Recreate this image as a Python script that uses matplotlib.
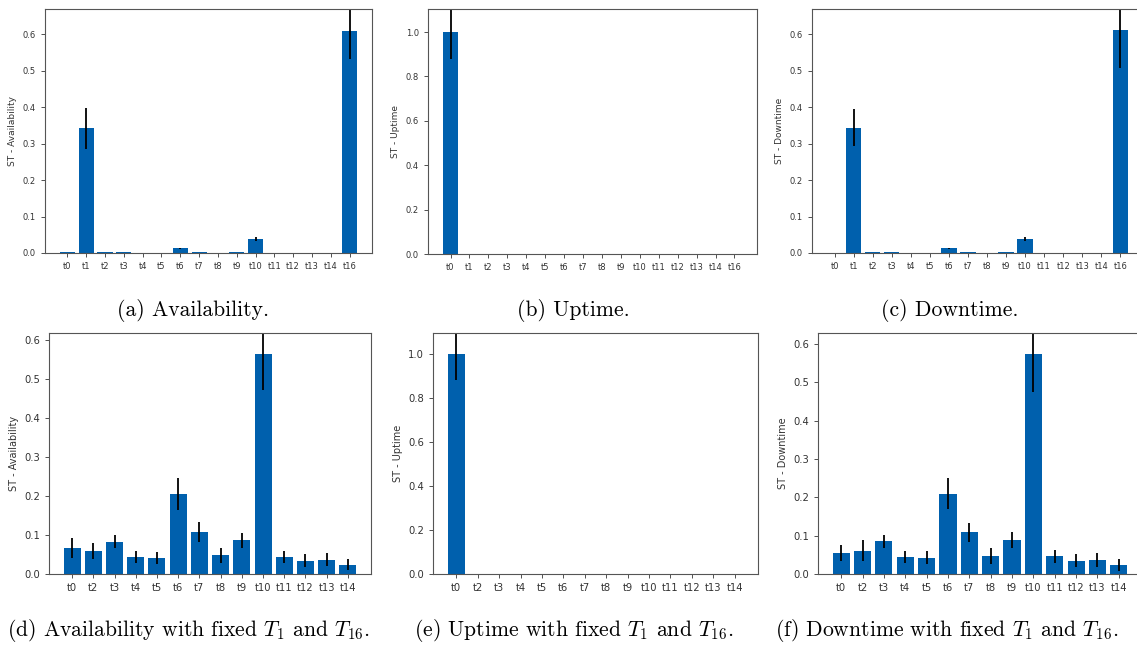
import numpy as np
import matplotlib.pyplot as plt

plt.rcParams['mathtext.fontset'] = 'cm'

# top row: all 16 inputs
labels_full = ['t0', 't1', 't2', 't3', 't4', 't5', 't6', 't7', 't8', 't9',
               't10', 't11', 't12', 't13', 't14', 't16']
avail_full = [0.002, 0.342, 0.002, 0.003, 0.0, 0.0, 0.013, 0.003, 0.0, 0.003,
              0.038, 0.0, 0.0, 0.0, 0.0, 0.609]
avail_full_err = [0.0, 0.057, 0.0, 0.0, 0.0, 0.0, 0.002, 0.0, 0.0, 0.0,
                  0.006, 0.0, 0.0, 0.0, 0.0, 0.076]
up_full = [1.0] + [0.0] * 15
up_full_err = [0.12] + [0.0] * 15
down_full = [0.0, 0.344, 0.002, 0.003, 0.0, 0.0, 0.013, 0.003, 0.0, 0.003,
             0.038, 0.0, 0.0, 0.0, 0.0, 0.612]
down_full_err = [0.0, 0.051, 0.0, 0.0, 0.0, 0.0, 0.002, 0.001, 0.0, 0.001,
                 0.006, 0.0, 0.0, 0.0, 0.0, 0.104]

# bottom row: T1 and T16 fixed
labels_fix = ['t0', 't2', 't3', 't4', 't5', 't6', 't7', 't8', 't9', 't10',
              't11', 't12', 't13', 't14']
avail_fix = [0.066, 0.059, 0.083, 0.043, 0.041, 0.205, 0.108, 0.048, 0.086,
             0.563, 0.044, 0.034, 0.037, 0.024]
avail_fix_err = [0.026, 0.021, 0.017, 0.015, 0.016, 0.040, 0.025, 0.019, 0.020,
                 0.092, 0.015, 0.016, 0.016, 0.014]
up_fix = [1.0] + [0.0] * 13
up_fix_err = [0.12] + [0.0] * 13
down_fix = [0.054, 0.061, 0.085, 0.044, 0.043, 0.210, 0.109, 0.047, 0.089,
            0.574, 0.046, 0.034, 0.037, 0.024]
down_fix_err = [0.021, 0.027, 0.018, 0.016, 0.016, 0.041, 0.025, 0.020, 0.021,
                0.100, 0.016, 0.017, 0.019, 0.015]

W, H = 1137, 647
fig = plt.figure(figsize=(W / 100, H / 100), dpi=100)


def px_axes(left, top, right, bottom):
    return fig.add_axes([left / W, 1 - bottom / H, (right - left) / W, (bottom - top) / H])


# axes box, labels, values, errors, y label, y top, tick size, label size
panels = [
    (px_axes(45, 9, 372, 253), labels_full, avail_full, avail_full_err, 'ST - Availability', 0.67, 6, 6.5),
    (px_axes(428, 9, 757, 254), labels_full, up_full, up_full_err, 'ST - Uptime', 1.104, 6, 6.5),
    (px_axes(812, 9, 1143, 253), labels_full, down_full, down_full_err, 'ST - Downtime', 0.67, 6, 6.5),
    (px_axes(49, 333, 371, 574), labels_fix, avail_fix, avail_fix_err, 'ST - Availability', 0.617, 7.2, 7),
    (px_axes(433, 333, 758, 574), labels_fix, up_fix, up_fix_err, 'ST - Uptime', 1.096, 7.2, 7),
    (px_axes(818, 333, 1142, 574), labels_fix, down_fix, down_fix_err, 'ST - Downtime', 0.629, 7.2, 7),
]

for ax, labels, vals, errs, ylab, ytop, tsize, lsize in panels:
    x = np.arange(len(labels))
    ax.bar(x, vals, width=0.8, color='#0060ad', yerr=errs, ecolor='black',
           error_kw=dict(elinewidth=1.3))
    ax.set_xticks(x)
    ax.set_xticklabels(labels)
    ax.set_ylim(0, ytop)
    ax.set_ylabel(ylab, fontsize=lsize, color='#333333')
    ax.tick_params(labelsize=tsize, colors='#333333', length=3, width=0.6)
    for s in ax.spines.values():
        s.set_color('#555555')
        s.set_linewidth(0.8)

captions = [
    (193, 311, '(a) Availability.'),
    (573, 311, '(b) Uptime.'),
    (950, 311, '(c) Downtime.'),
    (188, 630, '(d) Availability with fixed $T_1$ and $T_{16}$.'),
    (574, 630, '(e) Uptime with fixed $T_1$ and $T_{16}$.'),
    (947, 630, '(f) Downtime with fixed $T_1$ and $T_{16}$.'),
]
for cx, cy, txt in captions:
    fig.text(cx / W, 1 - cy / H, txt, ha='center', va='center',
             fontsize=15.6, family='cmr10')

fig.savefig('out.png', dpi=100)
